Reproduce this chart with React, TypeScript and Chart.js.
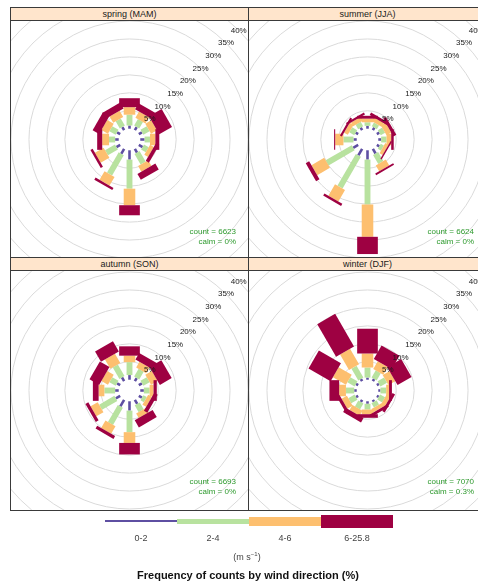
import React, { useEffect, useRef } from "react";
import { Chart, registerables } from "chart.js";

Chart.register(...registerables);

// ---------- data ----------
const DIRECTIONS = [0, 30, 60, 90, 120, 150, 180, 210, 240, 270, 300, 330];
const SPEED_LABELS = ["0-2", "2-4", "4-6", "6-25.8"];
const SPEED_COLORS = ["#5E4FA2", "#B8E29F", "#FDBF6F", "#9E0142"];
const GRID_PERCENTS = [5, 10, 15, 20, 25, 30, 35, 40];
const PANEL_TITLES = ["spring (MAM)", "summer (JJA)", "autumn (SON)", "winter (DJF)"];
const PANEL_COUNTS = [6623, 6624, 6693, 7070];
const PANEL_CALMS = ["0%", "0%", "0%", "0.3%"];
const MAX_FREQ = 30;
const OFFSET_PCT = 10;

// frequency (%) per direction for each speed bin
const spring0_2 = [0.9, 1.0, 1.0, 1.2, 1.2, 1.2, 2.6, 1.6, 1.2, 1.0, 1.0, 1.0];
const spring2_4 = [3.0, 2.1, 2.0, 1.5, 1.5, 3.4, 8.1, 6.5, 3.2, 1.7, 2.0, 2.3];
const spring4_6 = [2.1, 2.0, 1.9, 1.5, 1.2, 1.8, 4.6, 2.8, 2.8, 1.9, 2.1, 2.0];
const spring6_up = [2.5, 1.9, 4.1, 1.1, 1.0, 1.9, 2.8, 0.7, 0.7, 1.4, 2.1, 1.9];

const summer0_2 = [0.8, 0.8, 0.8, 0.8, 0.8, 1.5, 2.6, 2.1, 1.6, 0.9, 0.8, 0.8];
const summer2_4 = [1.0, 1.2, 1.4, 1.5, 1.0, 2.9, 12.5, 10.2, 8.4, 2.8, 1.6, 1.4];
const summer4_6 = [1.0, 1.2, 1.5, 1.3, 1.0, 1.9, 9.0, 3.7, 4.1, 2.3, 1.2, 1.2];
const summer6_up = [0.8, 0.8, 0.9, 0.7, 0.4, 0.5, 4.8, 0.7, 1.1, 0.3, 0.6, 0.6];

const autumn0_2 = [1.3, 1.0, 1.0, 1.0, 1.0, 1.3, 2.6, 2.1, 1.4, 1.0, 1.0, 1.2];
const autumn2_4 = [3.6, 2.5, 2.0, 1.6, 1.1, 2.2, 6.0, 5.5, 4.9, 3.0, 2.0, 3.7];
const autumn4_6 = [1.8, 1.8, 2.1, 1.1, 1.2, 1.4, 3.0, 2.4, 2.3, 1.6, 2.1, 3.0];
const autumn6_up = [2.6, 2.1, 3.8, 0.9, 1.1, 2.3, 3.2, 0.9, 0.9, 1.6, 3.1, 3.3];

const winter0_2 = [0.6, 0.7, 0.7, 0.6, 0.6, 0.6, 0.7, 0.7, 0.7, 0.7, 0.7, 0.7];
const winter2_4 = [2.8, 2.3, 2.1, 1.6, 1.6, 1.4, 1.6, 1.9, 2.0, 2.3, 2.3, 3.8];
const winter4_6 = [3.9, 2.5, 2.2, 0.8, 1.2, 1.1, 1.3, 1.6, 1.7, 1.9, 4.2, 5.0];
const winter6_up = [6.9, 4.3, 4.5, 0.8, 0.8, 0.8, 1.0, 1.4, 0.9, 2.7, 7.1, 10.5];

const PANEL_BINS = [
  [spring0_2, spring2_4, spring4_6, spring6_up],
  [summer0_2, summer2_4, summer4_6, summer6_up],
  [autumn0_2, autumn2_4, autumn4_6, autumn6_up],
  [winter0_2, winter2_4, winter4_6, winter6_up],
];

const FONT = "'Liberation Sans', Arial, Helvetica, sans-serif";

// openair-style paddle half widths
function boxWidths(n: number): number[] {
  const a = Math.pow(0.002, 0.25);
  const b = Math.pow(0.016, 0.25);
  const out: number[] = [];
  for (let i = 0; i < n; i++) {
    const v = a + ((b - a) * i) / (n - 1);
    out.push((Math.pow(v, 4) * MAX_FREQ * 30) / 5);
  }
  return out;
}

const roseplugin = {
  id: "windrose",
  beforeDatasetsDraw(chart: any, _args: any, opts: any) {
    const { ctx } = chart;
    const xs = chart.scales.x;
    const ys = chart.scales.y;
    const off = opts.offset;
    const cx = xs.getPixelForValue(0);
    const cy = ys.getPixelForValue(0);
    ctx.save();
    ctx.strokeStyle = "#dadada";
    ctx.lineWidth = 1;
    for (const g of GRID_PERCENTS) {
      const r = xs.getPixelForValue(g + off) - cx;
      ctx.beginPath();
      ctx.arc(cx, cy, r, 0, Math.PI * 2);
      ctx.stroke();
    }
    const widths = boxWidths(SPEED_LABELS.length);
    let cum = DIRECTIONS.map(() => 0);
    chart.data.datasets.forEach((ds: any, i: number) => {
      const w = widths[i];
      ctx.fillStyle = ds.backgroundColor;
      ds.data.forEach((pt: any, k: number) => {
        const a = (pt.x * Math.PI) / 180;
        const s = Math.sin(a);
        const c = Math.cos(a);
        const l1 = cum[k] + off;
        const l2 = cum[k] + pt.y + off;
        const pts = [
          [l1 * s - w * c, l1 * c + w * s],
          [l1 * s + w * c, l1 * c - w * s],
          [l2 * s + w * c, l2 * c - w * s],
          [l2 * s - w * c, l2 * c + w * s],
        ];
        ctx.beginPath();
        pts.forEach(([vx, vy], j) => {
          const X = xs.getPixelForValue(vx);
          const Y = ys.getPixelForValue(vy);
          if (j === 0) ctx.moveTo(X, Y);
          else ctx.lineTo(X, Y);
        });
        ctx.closePath();
        ctx.fill();
      });
      cum = cum.map((v, k) => v + ds.data[k].y);
    });
    ctx.restore();
    return false;
  },
  afterDraw(chart: any, _args: any, opts: any) {
    const { ctx, chartArea } = chart;
    const xs = chart.scales.x;
    const ys = chart.scales.y;
    const off = opts.offset;
    ctx.save();
    ctx.font = `8px ${FONT}`;
    ctx.fillStyle = "#1a1a1a";
    ctx.textAlign = "center";
    ctx.textBaseline = "middle";
    const s45 = Math.SQRT1_2;
    for (const g of GRID_PERCENTS) {
      const v = (g + off) * s45;
      ctx.fillText(`${g}%`, xs.getPixelForValue(v), ys.getPixelForValue(v));
    }
    ctx.fillStyle = "#2e9a2e";
    ctx.textAlign = "right";
    ctx.fillText(`count = ${opts.count}`, chartArea.right - 12, chartArea.top + 211);
    ctx.fillText(`calm = ${opts.calm}`, chartArea.right - 12, chartArea.top + 221);
    ctx.restore();
  },
};

function RosePanel({ index, width, height }: { index: number; width: number; height: number }) {
  const ref = useRef<HTMLCanvasElement | null>(null);
  useEffect(() => {
    if (!ref.current) return;
    const off = MAX_FREQ * (OFFSET_PCT / 100);
    const lim = MAX_FREQ + off;
    const ylim = (lim * height) / width;
    const bins = PANEL_BINS[index];
    const chart = new Chart(ref.current, {
      type: "scatter",
      data: {
        datasets: SPEED_LABELS.map((label, i) => ({
          label,
          backgroundColor: SPEED_COLORS[i],
          data: DIRECTIONS.map((d, k) => ({ x: d, y: bins[i][k] })),
          pointRadius: 0,
        })),
      },
      options: {
        animation: false,
        responsive: false,
        maintainAspectRatio: false,
        events: [],
        layout: { padding: 0 },
        parsing: false,
        plugins: {
          legend: { display: false },
          tooltip: { enabled: false },
          windrose: { offset: off, count: PANEL_COUNTS[index], calm: PANEL_CALMS[index] },
        } as any,
        scales: {
          x: { type: "linear", min: -lim, max: lim, display: false },
          y: { type: "linear", min: -ylim, max: ylim, display: false },
        },
      },
      plugins: [roseplugin as any],
    });
    return () => chart.destroy();
  }, [index, width, height]);
  return <canvas ref={ref} width={width} height={height} style={{ width, height, display: "block" }} />;
}

const PANEL_LAYOUT = [
  { left: 10, top: 7, stripH: 12, panelH: 237 },
  { left: 248, top: 7, stripH: 12, panelH: 237 },
  { left: 10, top: 257, stripH: 12, panelH: 239 },
  { left: 248, top: 257, stripH: 12, panelH: 239 },
];
const PANEL_W = 237;

export default function App() {
  const legendX0 = 105;
  const segW = 72;
  const segH = [2, 5, 9, 13];
  const legendCenterY = 521;
  return (
    <div
      style={{
        position: "absolute",
        left: 0,
        top: 0,
        width: 478,
        height: 585,
        overflow: "hidden",
        background: "#fff",
        fontFamily: FONT,
      }}
    >
      {PANEL_LAYOUT.map((p, i) => (
        <div
          key={i}
          style={{
            position: "absolute",
            left: p.left,
            top: p.top,
            width: PANEL_W + 2,
            height: p.stripH + p.panelH + 3,
            boxSizing: "border-box",
            border: "1px solid #3a3a3a",
            background: "#fff",
          }}
        >
          <div
            style={{
              height: p.stripH,
              background: "#FFE5CC",
              borderBottom: "1px solid #3a3a3a",
              fontSize: 9,
              lineHeight: `${p.stripH}px`,
              textAlign: "center",
              color: "#1a1a1a",
            }}
          >
            {PANEL_TITLES[i]}
          </div>
          <RosePanel index={i} width={PANEL_W} height={p.panelH} />
        </div>
      ))}
      {SPEED_LABELS.map((lab, i) => (
        <React.Fragment key={lab}>
          <div
            style={{
              position: "absolute",
              left: legendX0 + i * segW,
              top: legendCenterY - segH[i] / 2,
              width: segW,
              height: segH[i],
              background: SPEED_COLORS[i],
            }}
          />
          <div
            style={{
              position: "absolute",
              left: legendX0 + i * segW + segW / 2 - 40,
              width: 80,
              top: 532,
              fontSize: 9,
              lineHeight: "12px",
              textAlign: "center",
              color: "#444",
            }}
          >
            {lab}
          </div>
        </React.Fragment>
      ))}
      <div
        style={{
          position: "absolute",
          left: 197,
          width: 100,
          top: 551,
          fontSize: 9,
          lineHeight: "12px",
          textAlign: "center",
          color: "#444",
        }}
      >
        (m s<sup style={{ fontSize: 6, verticalAlign: "4px", lineHeight: 0 }}>−1</sup>)
      </div>
      <div
        style={{
          position: "absolute",
          left: 98,
          width: 300,
          top: 568,
          fontSize: 11,
          fontWeight: "bold",
          lineHeight: "14px",
          textAlign: "center",
          color: "#111",
        }}
      >
        Frequency of counts by wind direction (%)
      </div>
    </div>
  );
}
